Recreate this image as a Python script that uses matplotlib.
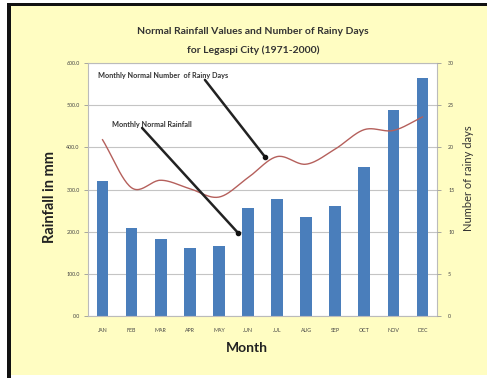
import numpy as np
import matplotlib
matplotlib.use("Agg")
import matplotlib.pyplot as plt
from matplotlib.patches import Rectangle

# Legaspi City normals, 1971-2000
months = ["JAN", "FEB", "MAR", "APR", "MAY", "JUN",
          "JUL", "AUG", "SEP", "OCT", "NOV", "DEC"]
rainfall_mm = [321, 208, 183, 161, 167, 257, 278, 234, 261, 353, 488, 564]
rainy_days = [20.9, 15.2, 16.1, 15.1, 14.1, 16.4, 18.9, 18.0, 19.8, 22.1, 22.0, 23.6]

rain_ticks = [0, 100, 200, 300, 400, 500, 600]
day_ticks = [0, 5, 10, 15, 20, 25, 30]

W, H = 487, 378
BG = "#FFFDC2"
BAR = "#4A7EBB"
LINE = "#B5605C"

plt.rcParams["font.family"] = ["Lato", "DejaVu Sans"]


def smooth_line(xs, ys, steps=24):
    # Catmull-Rom curve through the points, like a spreadsheet "smoothed line"
    xs = np.asarray(xs, float)
    ys = np.asarray(ys, float)
    px = np.concatenate([[2 * xs[0] - xs[1]], xs, [2 * xs[-1] - xs[-2]]])
    py = np.concatenate([[2 * ys[0] - ys[1]], ys, [2 * ys[-1] - ys[-2]]])
    outx, outy = [], []
    t = np.linspace(0, 1, steps, endpoint=False)
    for i in range(1, len(px) - 2):
        for arr, out in ((px, outx), (py, outy)):
            p0, p1, p2, p3 = arr[i - 1], arr[i], arr[i + 1], arr[i + 2]
            out.extend(0.5 * ((2 * p1) + (-p0 + p2) * t
                              + (2 * p0 - 5 * p1 + 4 * p2 - p3) * t ** 2
                              + (-p0 + 3 * p1 - 3 * p2 + p3) * t ** 3))
    outx.append(xs[-1])
    outy.append(ys[-1])
    return np.array(outx), np.array(outy)


fig = plt.figure(figsize=(W / 100, H / 100), dpi=100, facecolor="white")

# yellow chart area with the dark frame on top and left
fig.patches.append(Rectangle((11 / W, 1 - 375 / H), 1 - 11 / W, (375 - 6) / H,
                             transform=fig.transFigure, facecolor=BG,
                             edgecolor="none", zorder=-2))
fig.patches.append(Rectangle((7 / W, 0), 3.5 / W, 1 - 3 / H,
                             transform=fig.transFigure, facecolor="#111111",
                             edgecolor="none", zorder=-1))
fig.patches.append(Rectangle((7 / W, 1 - 6 / H), 1 - 7 / W, 3 / H,
                             transform=fig.transFigure, facecolor="#111111",
                             edgecolor="none", zorder=-1))

ax = fig.add_axes([88 / W, 1 - 316 / H, 349 / W, 253 / H])
ax.set_facecolor("white")
x = np.arange(len(months))
ax.bar(x, rainfall_mm, width=0.4, color=BAR, zorder=2)
ax.set_xlim(-0.5, len(months) - 0.5)
ax.set_ylim(0, 600)
ax.set_yticks(rain_ticks)
ax.set_yticklabels([f"{v:.1f}" for v in rain_ticks])
ax.set_xticks(x)
ax.set_xticklabels(months)
ax.grid(axis="y", color="#C4C4C4", lw=0.8, zorder=0)
ax.set_axisbelow(True)
ax.tick_params(axis="y", length=3, width=0.6, color="#999999", pad=3,
               labelsize=3.8, labelcolor="#444444")
ax.tick_params(axis="x", length=0, pad=9, labelsize=3.8, labelcolor="#444444")
for s in ax.spines.values():
    s.set_color("#BBBBBB")
    s.set_linewidth(0.8)

ax2 = ax.twinx()
ax2.set_ylim(0, 30)
ax2.set_yticks(day_ticks)
ax2.tick_params(axis="y", length=3, width=0.6, color="#999999", pad=5,
                labelsize=3.8, labelcolor="#444444")
for s in ax2.spines.values():
    s.set_visible(False)
sx, sy = smooth_line(x, rainy_days)
ax2.plot(sx, sy, color=LINE, lw=1.0, zorder=3)

# callouts, drawn on the top axes so they sit over the line
arrow = dict(arrowstyle="-", color="#222222", lw=1.8, shrinkA=0, shrinkB=0)
to_top = lambda px, py: ax2.transData.inverted().transform(ax.transData.transform((px, py)))
ax2.annotate("", xy=to_top(5.59, 377), xytext=to_top(3.52, 560), arrowprops=arrow, zorder=5)
ax2.plot(*to_top(5.59, 377), "o", color="#111111", ms=3, zorder=6)
ax2.text(*to_top(-0.16, 571), "Monthly Normal Number  of Rainy Days", fontsize=5.2,
         fontweight="bold", color="#333333", va="center", ha="left")
ax2.annotate("", xy=to_top(4.66, 197), xytext=to_top(1.36, 446), arrowprops=arrow, zorder=5)
ax2.plot(*to_top(4.66, 197), "o", color="#111111", ms=3, zorder=6)
ax2.text(*to_top(0.33, 453), "Monthly Normal Rainfall", fontsize=5.2,
         fontweight="bold", color="#333333", va="center", ha="left")

fig.text(253 / W, 1 - 32 / H, "Normal Rainfall Values and Number of Rainy Days",
         ha="center", va="center", fontsize=7.5, fontweight="bold", color="#333333")
fig.text(253 / W, 1 - 50 / H, "for Legaspi City (1971-2000)",
         ha="center", va="center", fontsize=7.5, fontweight="bold", color="#333333")
fig.text(247 / W, 1 - 348 / H, "Month", ha="center", va="center",
         fontsize=10, fontweight="bold", color="#222222")
fig.text(50 / W, 1 - 197 / H, "Rainfall in mm", ha="center", va="center",
         rotation=90, fontsize=10.5, fontweight="bold", color="#222222")
fig.text(468 / W, 1 - 178 / H, "Number of rainy days", ha="center", va="center",
         rotation=90, fontsize=8, color="#333333")

fig.savefig("out.png", dpi=100, facecolor="white")
